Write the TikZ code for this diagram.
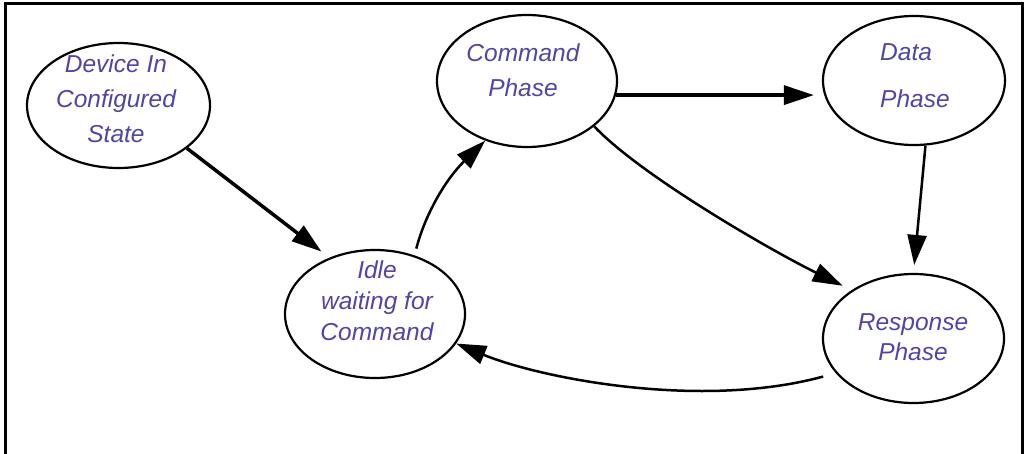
\documentclass[tikz,border=0pt]{standalone}
\usepackage{fontspec}
\setmainfont{Liberation Sans}
\usetikzlibrary{shapes.geometric,arrows.meta}
\definecolor{txtcol}{RGB}{80,70,165}
\tikzset{
  frame/.style={line width=3pt, line join=miter},
  state/.style={ellipse, draw, line width=2.2pt, inner sep=0pt},
  lbl/.style={text=txtcol, font=\fontsize{24.5}{35}\selectfont\itshape, align=center, inner sep=0pt},
  conn/.style={line width=2.5pt, -{Triangle[length=30pt,width=19pt]}},
  thickconn/.style={conn, line width=3.5pt}
}
\begin{document}
\begin{tikzpicture}[x=1pt,y=-1pt]
\useasboundingbox (0,0) rectangle (1026,453);
\fill[white] (0,0) rectangle (1026,453);
\draw[frame] (5,460) -- (5,3) -- (1022,3) -- (1022,460);

\node[state, minimum width=183pt, minimum height=125pt] (dev) at (118.5,105.5) {};
\node[state, minimum width=180pt, minimum height=128pt] (idle) at (375,314) {};
\node[state, minimum width=180pt, minimum height=132pt] (cmd) at (527,81) {};
\node[state, minimum width=182pt, minimum height=129pt] (data) at (914,80.5) {};
\node[state, minimum width=181pt, minimum height=129pt] (resp) at (913.5,338.5) {};

\node[lbl] (devtxt) at (116,99) {Device In\\Configured\\State};
\node[lbl, font=\fontsize{24.5}{31}\selectfont\itshape] (idletxt) at (377,301) {Idle\\waiting for\\Command};
\node[lbl] (cmdtxt) at (523,70) {Command\\Phase};
\node[lbl, align=left, anchor=west, font=\fontsize{24.5}{47}\selectfont\itshape] (datatxt) at (880,76) {Data\\Phase};
\node[lbl, font=\fontsize{24.5}{30}\selectfont\itshape] (resptxt) at (913,337) {Response\\Phase};

\draw[thickconn, shorten >=10pt] (dev.-32) -- (idle.129);
\draw[conn, shorten <=7pt] (idle.56) .. controls (425,215) and (445,180) .. (cmd.235);
\draw[thickconn, shorten >=8pt] (cmd.-9) -- (cmd.-9 -| data.west);
\draw[conn, shorten >=10pt] (cmd.-34) .. controls (640,175) and (770,250) .. (resp.142);
\draw[conn, shorten >=8pt] (data.-80) -- (resp.north);
\draw[conn, shorten <=13pt] (resp.204) .. controls (700,410) and (540,378) .. (idle.-20);
\end{tikzpicture}
\end{document}
